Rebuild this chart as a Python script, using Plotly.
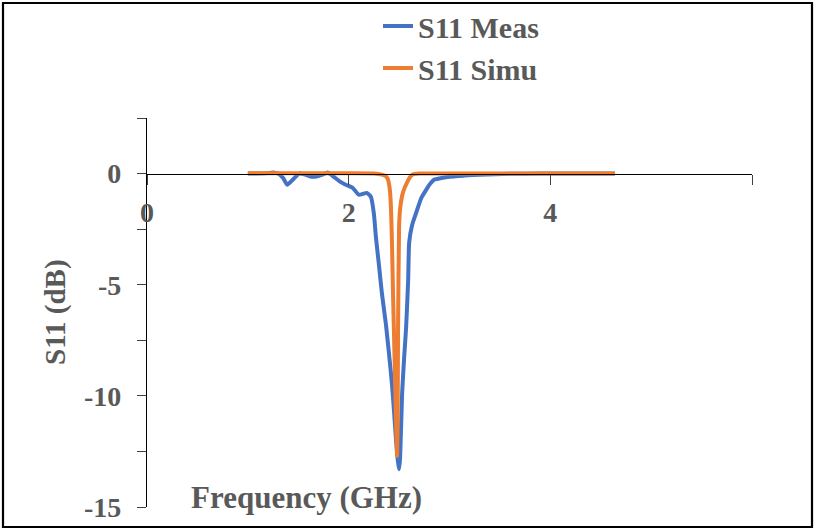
import plotly.graph_objects as go

# Measured S11 (GHz, dB)
meas_f = [1.00, 1.10, 1.20, 1.25, 1.30, 1.35, 1.39, 1.44, 1.51, 1.57, 1.62, 1.68, 1.74, 1.79,
          1.84, 1.91, 1.97, 2.04, 2.10, 2.15, 2.18, 2.22, 2.25, 2.27, 2.30, 2.33, 2.37, 2.40,
          2.43, 2.45, 2.47, 2.49, 2.50, 2.51, 2.53, 2.55, 2.57, 2.59, 2.60, 2.63, 2.67, 2.72,
          2.77, 2.81, 2.85, 2.92, 3.00, 3.15, 3.29, 3.45, 3.60, 3.90, 4.20, 4.64]
meas_db = [0.00, 0.00, 0.02, 0.05, 0.00, -0.20, -0.50, -0.30, 0.00, -0.05, -0.13, -0.13, -0.05, 0.05,
           -0.10, -0.35, -0.50, -0.64, -0.95, -0.90, -0.87, -1.04, -1.80, -2.85, -4.10, -5.40, -6.80, -8.10,
           -9.50, -10.70, -12.00, -13.00, -13.30, -12.80, -9.90, -8.30, -6.90, -4.80, -3.10, -2.30, -1.76, -1.10,
           -0.72, -0.45, -0.27, -0.20, -0.14, -0.09, -0.05, -0.03, -0.01, 0.00, 0.00, 0.00]

# Simulated S11 (GHz, dB)
simu_f = [1.00, 1.50, 2.00, 2.25, 2.33, 2.37, 2.39, 2.41, 2.42, 2.43, 2.44, 2.45, 2.46, 2.47,
          2.48, 2.485, 2.49, 2.50, 2.51, 2.53, 2.55, 2.58, 2.61, 2.63, 2.70, 3.00, 3.50, 4.00, 4.64]
simu_db = [0.02, 0.02, 0.01, 0.00, -0.05, -0.12, -0.27, -0.80, -1.60, -3.20, -5.40, -7.30, -9.20, -11.20,
           -12.70, -11.50, -6.90, -2.40, -1.60, -1.00, -0.70, -0.40, -0.15, -0.05, 0.00, 0.00, 0.00, 0.00, 0.00]

x_ticks = [0, 2, 4, 6]
x_ticktext = ["0", "2", "4", ""]
y_ticks = [-15, -12.5, -10, -7.5, -5, -2.5, 0, 2.5]
y_ticktext = ["-15", "", "-10", "", "-5", "", "0", ""]

FONT = "Liberation Serif"
GREY = "#595959"
W, H = 816, 531


def px(x):
    return x / W


def py(y):
    return (H - y) / H


fig = go.Figure()
fig.add_trace(go.Scatter(x=meas_f, y=meas_db, mode="lines", name="S11 Meas",
                         line=dict(color="#4472C4", width=4, shape="spline", smoothing=0.5)))
fig.add_trace(go.Scatter(x=simu_f, y=simu_db, mode="lines", name="S11 Simu",
                         line=dict(color="#ED7D31", width=4, shape="spline", smoothing=0.4)))

fig.update_layout(
    width=W, height=H,
    margin=dict(l=0, r=0, t=0, b=0, pad=0),
    paper_bgcolor="white", plot_bgcolor="white",
    font=dict(family=FONT, size=22, color=GREY),
    showlegend=True,
    legend=dict(x=px(378), y=1.0, xanchor="left", yanchor="top",
                font=dict(family=FONT, size=30, color=GREY, weight="bold"),
                bgcolor="rgba(0,0,0,0)", itemwidth=30),
    xaxis=dict(domain=[px(147), px(752)], range=[0, 6], tickvals=x_ticks, ticktext=x_ticktext,
               anchor="free", position=py(174), automargin=False,
               showline=True, linecolor="black", linewidth=1.3,
               ticks="outside", ticklen=10, tickcolor="#404040", tickwidth=1.3,
               ticklabelstandoff=3,
               showgrid=False, zeroline=False,
               tickfont=dict(family=FONT, size=28, color=GREY, weight="bold")),
    yaxis=dict(domain=[py(507), py(118)], range=[-15, 2.5], tickvals=y_ticks, ticktext=y_ticktext,
               automargin=False,
               showline=True, linecolor="black", linewidth=1.3,
               ticks="outside", ticklen=9, tickcolor="#404040", tickwidth=1.3,
               ticklabelstandoff=10,
               showgrid=False, zeroline=False,
               tickfont=dict(family=FONT, size=28, color=GREY, weight="bold")),
)

fig.add_annotation(text="<b>Frequency (GHz)</b>", xref="paper", yref="paper",
                   x=px(306), y=py(497), xanchor="center", yanchor="middle",
                   showarrow=False, font=dict(family=FONT, size=31, color=GREY))
fig.add_annotation(text="<b>S11 (dB)</b>", xref="paper", yref="paper",
                   x=px(55), y=py(312), xanchor="center", yanchor="middle",
                   textangle=-90, showarrow=False, font=dict(family=FONT, size=29, color=GREY))

# outer frame
fig.add_shape(type="rect", xref="paper", yref="paper",
              x0=px(3), x1=px(812), y0=py(527), y1=py(3),
              line=dict(color="black", width=2.2), fillcolor="rgba(0,0,0,0)", layer="below")

fig.write_html("out.html", config={"displayModeBar": False},
               post_script="document.body.style.margin='0px';")
